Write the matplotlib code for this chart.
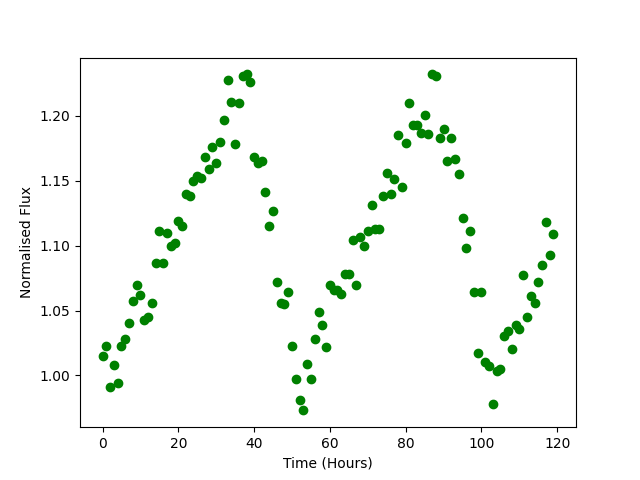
import matplotlib
matplotlib.use("Agg")
import matplotlib.pyplot as plt
import numpy as np

time_hours = np.arange(120)
flux = [
    1.015, 1.023, 0.991, 1.008, 0.994, 1.023, 1.028, 1.040, 1.057, 1.070,
    1.062, 1.043, 1.045, 1.056, 1.087, 1.111, 1.087, 1.110, 1.100, 1.102,
    1.119, 1.115, 1.140, 1.138, 1.150, 1.154, 1.152, 1.168, 1.159, 1.176,
    1.164, 1.180, 1.197, 1.228, 1.211, 1.178, 1.210, 1.231, 1.232, 1.226,
    1.168, 1.164, 1.165, 1.141, 1.115, 1.127, 1.072, 1.056, 1.055, 1.064,
    1.023, 0.997, 0.981, 0.973, 1.009, 0.997, 1.028, 1.049, 1.039, 1.022,
    1.070, 1.066, 1.066, 1.063, 1.078, 1.078, 1.104, 1.070, 1.107, 1.100,
    1.111, 1.131, 1.113, 1.113, 1.138, 1.156, 1.140, 1.151, 1.185, 1.145,
    1.179, 1.210, 1.193, 1.193, 1.187, 1.201, 1.186, 1.232, 1.231, 1.183,
    1.190, 1.165, 1.183, 1.167, 1.155, 1.121, 1.098, 1.111, 1.064, 1.017,
    1.064, 1.010, 1.007, 0.978, 1.003, 1.005, 1.030, 1.034, 1.020, 1.039,
    1.036, 1.077, 1.045, 1.061, 1.056, 1.072, 1.085, 1.118, 1.093, 1.109,
]

fig, ax = plt.subplots(figsize=(6.4, 4.8), dpi=100)
ax.plot(time_hours, flux, 'o', color='green')
ax.set_xlabel("Time (Hours)")
ax.set_ylabel("Normalised Flux")
fig.savefig("out.png")
